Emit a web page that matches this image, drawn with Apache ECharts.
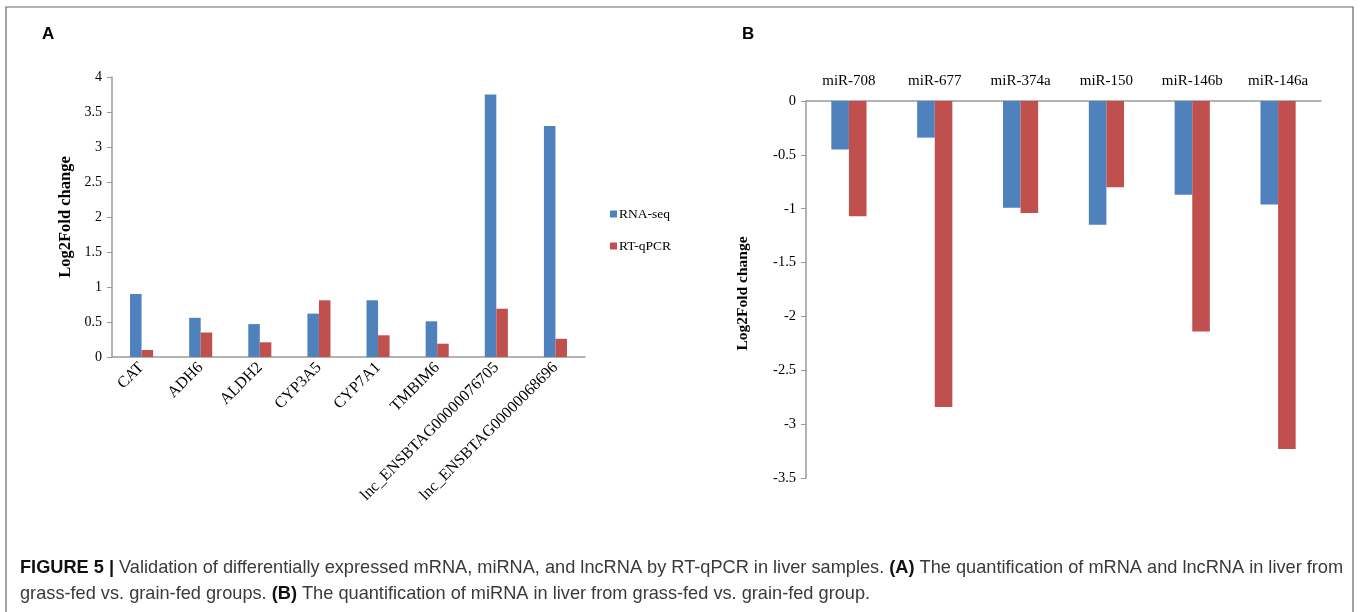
<!DOCTYPE html>
<html>
<head>
<meta charset="utf-8">
<script src="https://cdn.jsdelivr.net/npm/echarts@6/dist/echarts.min.js"></script>
<style>
html,body{margin:0;padding:0;background:#fff;}
#c{width:1362px;height:612px;}
</style>
</head>
<body>
<div id="c"></div>
<script>
// Panel A data
const catsA = ['CAT','ADH6','ALDH2','CYP3A5','CYP7A1','TMBIM6','lnc_ENSBTAG00000076705','lnc_ENSBTAG00000068696'];
const rnaSeqA = [0.90, 0.56, 0.47, 0.62, 0.81, 0.51, 3.75, 3.30];
const rtqpcrA = [0.10, 0.35, 0.21, 0.81, 0.31, 0.19, 0.69, 0.26];
const ticksA = { min: 0, max: 4, interval: 0.5 };
// Panel B data
const catsB = ['miR-708','miR-677','miR-374a','miR-150','miR-146b','miR-146a'];
const rnaSeqB = [-0.45, -0.34, -0.99, -1.15, -0.87, -0.96];
const rtqpcrB = [-1.07, -2.84, -1.04, -0.80, -2.14, -3.23];
const ticksB = { min: -3.5, max: 0, interval: 0.5 };
const seriesNames = ['RNA-seq','RT-qPCR'];

const BLUE = '#4F81BD', RED = '#C0504D';
const SERIF = '"Liberation Serif","Times New Roman",serif';
const SANS = '"Liberation Sans",Arial,sans-serif';
const axisGray = '#9a9a9a';

const chart = echarts.init(document.getElementById('c'), null, {renderer:'canvas'});
const fmt = v => String(v);

const option = {
  backgroundColor: '#fff',
  animation: false,
  color: [BLUE, RED],
  legend: {
    data: seriesNames,
    orient: 'vertical',
    left: 605, top: 202,
    itemWidth: 7, itemHeight: 7, itemGap: 18,
    icon: 'rect',
    textStyle: { fontFamily: SERIF, fontSize: 13.5, color: '#000', padding: [0,0,0,-3] }
  },
  grid: [
    { left: 112, top: 77, width: 473, height: 280 },
    { left: 806, top: 101, width: 515, height: 377 }
  ],
  xAxis: [
    { gridIndex: 0, type: 'category', data: catsA,
      axisLine: { lineStyle: { color: axisGray, width: 1.5 } },
      axisTick: { show: false },
      axisLabel: { rotate: 45, margin: 8, interval: 0, fontFamily: SERIF, fontSize: 16, color: '#000' } },
    { gridIndex: 1, type: 'category', data: catsB, position: 'top',
      axisLine: { onZero: false, lineStyle: { color: axisGray, width: 1.5 } },
      axisTick: { show: false },
      axisLabel: { margin: 12, interval: 0, fontFamily: SERIF, fontSize: 15, color: '#000' } }
  ],
  yAxis: [
    { gridIndex: 0, type: 'value', min: ticksA.min, max: ticksA.max, interval: ticksA.interval,
      name: 'Log2Fold change', nameLocation: 'middle', nameGap: 38, nameRotate: 90,
      nameTextStyle: { fontFamily: SERIF, fontSize: 16.5, fontWeight: 'bold', color: '#000' },
      axisLine: { show: true, lineStyle: { color: axisGray, width: 1.5 } },
      axisTick: { show: true, length: 5, lineStyle: { color: axisGray } },
      splitLine: { show: false },
      axisLabel: { margin: 10, fontFamily: SERIF, fontSize: 14, color: '#000', formatter: fmt } },
    { gridIndex: 1, type: 'value', min: ticksB.min, max: ticksB.max, interval: ticksB.interval,
      name: 'Log2Fold change', nameLocation: 'middle', nameGap: 55, nameRotate: 90,
      nameTextStyle: { fontFamily: SERIF, fontSize: 15.5, fontWeight: 'bold', color: '#000', padding: [0, 8, 0, 0] },
      axisLine: { show: true, lineStyle: { color: axisGray, width: 1.5 } },
      axisTick: { show: true, length: 5, lineStyle: { color: axisGray } },
      splitLine: { show: false },
      axisLabel: { margin: 10, fontFamily: SERIF, fontSize: 14.5, color: '#000', formatter: fmt } }
  ],
  series: [
    { name: seriesNames[0], type: 'bar', xAxisIndex: 0, yAxisIndex: 0, data: rnaSeqA,
      barGap: '0%', barCategoryGap: '61%', itemStyle: { color: BLUE } },
    { name: seriesNames[1], type: 'bar', xAxisIndex: 0, yAxisIndex: 0, data: rtqpcrA,
      barGap: '0%', barCategoryGap: '61%', itemStyle: { color: RED } },
    { name: seriesNames[0], type: 'bar', xAxisIndex: 1, yAxisIndex: 1, data: rnaSeqB,
      barGap: '0%', barCategoryGap: '59%', itemStyle: { color: BLUE } },
    { name: seriesNames[1], type: 'bar', xAxisIndex: 1, yAxisIndex: 1, data: rtqpcrB,
      barGap: '0%', barCategoryGap: '59%', itemStyle: { color: RED } }
  ],
  graphic: [
    { type: 'rect', shape: { x: 6, y: 7, width: 1347, height: 640 },
      style: { fill: 'none', stroke: '#666', lineWidth: 1.2 }, silent: true },
    { type: 'text', left: 42, top: 26,
      style: { text: 'A', font: 'bold 17px "Liberation Sans",Arial,sans-serif', fill: '#000' } },
    { type: 'text', left: 742, top: 26,
      style: { text: 'B', font: 'bold 17px "Liberation Sans",Arial,sans-serif', fill: '#000' } },
    { type: 'text', left: 20, top: 555,
      style: {
        text: '{b|FIGURE 5 |} Validation of differentially expressed mRNA, miRNA, and lncRNA by RT-qPCR in liver samples. {b|(A)} The quantification of mRNA and lncRNA in liver from\ngrass-fed vs. grain-fed groups. {b|(B)} The quantification of miRNA in liver from grass-fed vs. grain-fed group.',
        fontFamily: SANS, fontSize: 18.2, fill: '#3a3a3a', lineHeight: 26,
        rich: { b: { fontFamily: SANS, fontSize: 18.2, fontWeight: 'bold', fill: '#111', lineHeight: 26 } }
      } }
  ]
};
chart.setOption(option);
</script>
</body>
</html>
